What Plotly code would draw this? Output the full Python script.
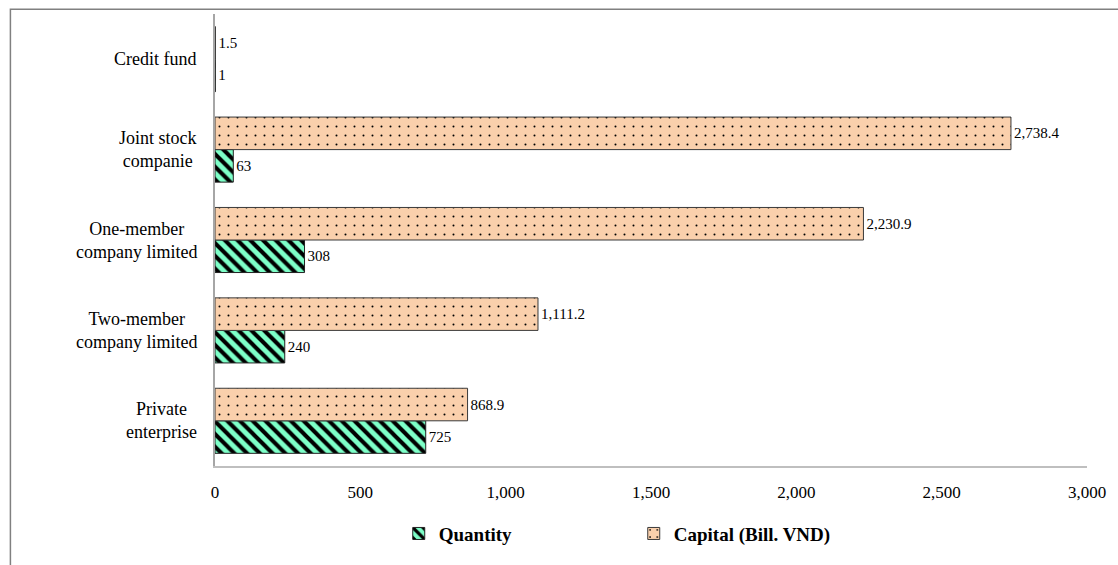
import plotly.graph_objects as go

categories = ["Private enterprise", "Two-member company limited", "One-member company limited",
              "Joint stock companie", "Credit fund"]
category_labels = ["Private<br>enterprise", "Two-member<br>company limited", "One-member<br>company limited",
                   "Joint stock<br>companie", "Credit fund"]
quantity = [725, 240, 308, 63, 1]
capital = [868.9, 1111.2, 2230.9, 2738.4, 1.5]
x_ticks = [0, 500, 1000, 1500, 2000, 2500, 3000]

FONT = "Liberation Serif, Times New Roman, serif"
W, H = 1118, 565
ML, MR, MT = 215, 1118 - 1093, 14
MB = H - 482
PW, PH = W - ML - MR, H - MT - MB

fig = go.Figure()
fig.add_trace(go.Bar(
    y=categories, x=quantity, orientation="h", name="Quantity",
    marker=dict(color="#7DFFC8", line=dict(color="#222222", width=1),
                pattern=dict(shape="\\", fgcolor="#000000", bgcolor="#7DFFC8",
                             size=9, solidity=0.45, fillmode="replace")),
    text=quantity, texttemplate="%{x:,d}", textposition="outside",
    textfont=dict(family=FONT, size=15, color="#000"), cliponaxis=False,
))
fig.add_trace(go.Bar(
    y=categories, x=capital, orientation="h", name="Capital (Bill. VND)",
    marker=dict(color="#FAD0AC", line=dict(color="#3a3a3a", width=1),
                pattern=dict(shape=".", fgcolor="#000000", bgcolor="#FAD0AC",
                             size=9, solidity=0.04, fillmode="replace")),
    text=capital, texttemplate="%{x:,.1f}", textposition="outside",
    textfont=dict(family=FONT, size=15, color="#000"), cliponaxis=False,
))

for cat, lab in zip(categories, category_labels):
    fig.add_annotation(x=-16 / PW, xref="paper", y=cat, yref="y", text=lab,
                       showarrow=False, xanchor="right", yanchor="middle", align="center",
                       font=dict(family=FONT, size=18, color="#000"))

# outer chart border (its right and bottom edges lie outside the picture)
fig.add_shape(type="rect", xref="paper", yref="paper",
              x0=(9 - ML) / PW, x1=(W + 30 - ML) / PW,
              y0=-(H + 30 - (H - MB)) / PH, y1=1 + (MT - 9) / PH,
              line=dict(color="#808080", width=1.5), fillcolor="rgba(0,0,0,0)", layer="below")

fig.update_layout(
    width=W, height=H,
    margin=dict(l=ML, r=MR, t=MT, b=MB),
    paper_bgcolor="white", plot_bgcolor="white",
    barmode="group", bargap=0.28, bargroupgap=0,
    font=dict(family=FONT, size=16, color="#000"),
    showlegend=True,
    legend=dict(orientation="h", x=(400 - ML) / PW, xanchor="left",
                y=-(552 - 482) / PH, yanchor="middle",
                font=dict(family=FONT, size=19, color="#000", weight="bold"),
                entrywidth=190, traceorder="normal"),
    xaxis=dict(range=[0, 3000], tickvals=x_ticks, tickformat=",d", showgrid=False,
               zeroline=False, showline=True, linecolor="#BFBFBF", linewidth=1.5,
               ticks="outside", ticklen=10, tickcolor="rgba(0,0,0,0)",
               ticklabeloverflow="allow",
               tickfont=dict(family=FONT, size=17, color="#000"), fixedrange=True),
    yaxis=dict(categoryorder="array", categoryarray=categories, showticklabels=False,
               showgrid=False, zeroline=False, showline=True, linecolor="#A6A6A6", linewidth=1.5,
               ticks="", fixedrange=True),
)

# remove the page's default body margin so the figure fills the window exactly
fig.write_html("out.html", config={"displayModeBar": False},
               post_script="document.body.style.margin='0px';document.body.style.overflow='hidden';")
